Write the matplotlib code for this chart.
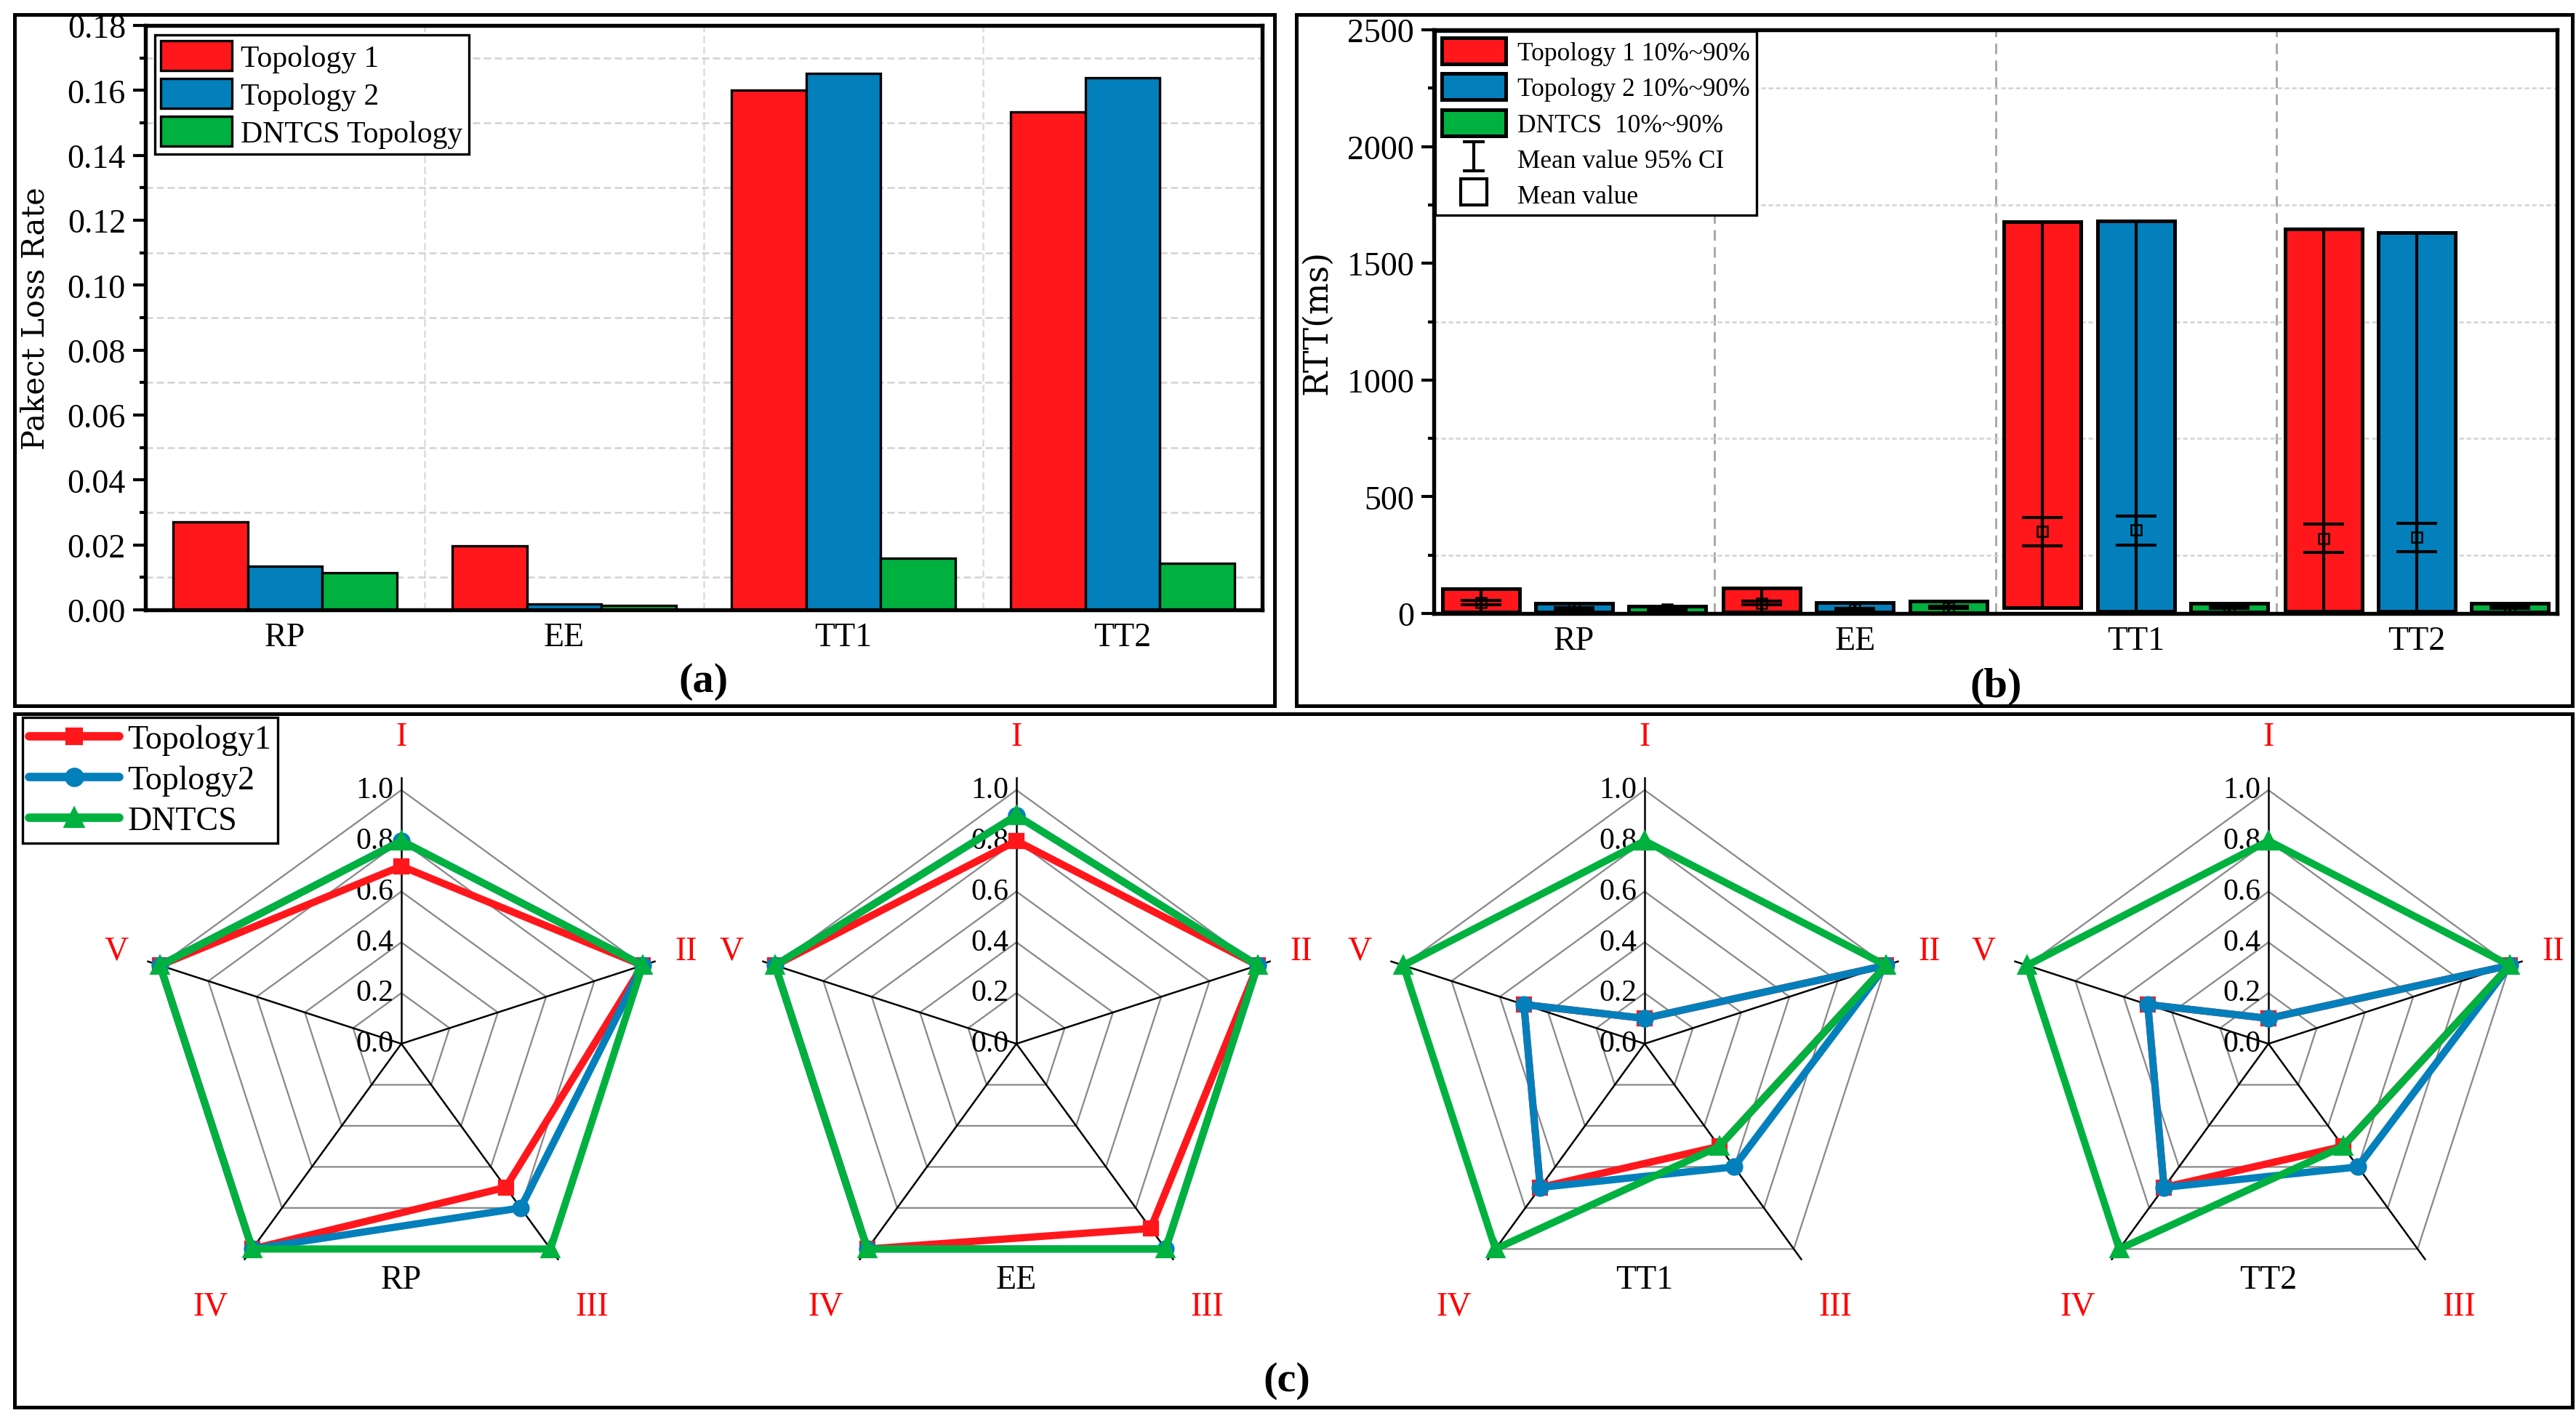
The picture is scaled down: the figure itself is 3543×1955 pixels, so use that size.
import matplotlib.pyplot as plt
import numpy as np
from matplotlib.lines import Line2D
from matplotlib.patches import Patch, Rectangle
from matplotlib.path import Path
from matplotlib.ticker import MultipleLocator, FormatStrFormatter

W, H = 3543, 1956
DPI = 300

plt.rcParams['font.family'] = ['Liberation Serif', 'DejaVu Serif']

RED = '#ff171c'
BLUE = '#0380bc'
GREEN = '#00b140'

scenarios = ['RP', 'EE', 'TT1', 'TT2']

# (a) packet loss rate
loss_labels = ['Topology 1', 'Topology 2', 'DNTCS Topology']
loss_topo1 = [0.0270, 0.0197, 0.1600, 0.1534]
loss_topo2 = [0.0134, 0.0018, 0.1652, 0.1638]
loss_dntcs = [0.0115, 0.0014, 0.0160, 0.0144]

# (b) RTT: 10%..90% range, mean and 95% CI of the mean
rtt_labels = ['Topology 1 10%~90%', 'Topology 2 10%~90%', 'DNTCS  10%~90%']
rtt_p10_topo1 = [5, 5, 24, 8]
rtt_p90_topo1 = [105, 110, 1677, 1648]
rtt_mean_topo1 = [47, 44, 351, 322]
rtt_ci_lo_topo1 = [38, 36, 289, 260]
rtt_ci_hi_topo1 = [57, 53, 410, 382]

rtt_p10_topo2 = [5, 5, 8, 8]
rtt_p90_topo2 = [44, 47, 1680, 1630]
rtt_mean_topo2 = [21, 18, 358, 327]
rtt_ci_lo_topo2 = [17, 14, 293, 264]
rtt_ci_hi_topo2 = [25, 22, 416, 385]

rtt_p10_dntcs = [4, 4, 5, 5]
rtt_p90_dntcs = [31, 54, 44, 45]
rtt_mean_dntcs = [19, 26, 26, 25]
rtt_ci_lo_dntcs = [15, 22, 22, 21]
rtt_ci_hi_dntcs = [23, 30, 30, 29]

# (c) radar scores
radar_axes = ['I', 'II', 'III', 'IV', 'V']
radar_levels = [0.0, 0.2, 0.4, 0.6, 0.8, 1.0]
radar_names = ['Topology1', 'Toplogy2', 'DNTCS']
radar_rp = [[0.7, 1.0, 0.7, 1.0, 1.0],
            [0.8, 1.0, 0.8, 1.0, 1.0],
            [0.8, 1.0, 1.0, 1.0, 1.0]]
radar_ee = [[0.8, 1.0, 0.9, 1.0, 1.0],
            [0.9, 1.0, 1.0, 1.0, 1.0],
            [0.9, 1.0, 1.0, 1.0, 1.0]]
radar_tt1 = [[0.1, 1.0, 0.5, 0.7, 0.5],
             [0.1, 1.0, 0.6, 0.7, 0.5],
             [0.8, 1.0, 0.5, 1.0, 1.0]]
radar_tt2 = [[0.1, 1.0, 0.5, 0.7, 0.5],
             [0.1, 1.0, 0.6, 0.7, 0.5],
             [0.8, 1.0, 0.5, 1.0, 1.0]]


def px_box(x0, y0, x1, y1):
    """Pixel box (top-left origin) -> figure fraction [left, bottom, w, h]."""
    return [x0 / W, 1 - y1 / H, (x1 - x0) / W, (y1 - y0) / H]


def style_bar_axes(ax):
    for sp in ax.spines.values():
        sp.set_linewidth(1.3)
    ax.tick_params(axis='y', which='major', direction='out', length=4, width=1.0,
                   labelsize=11, pad=2.5)
    ax.tick_params(axis='y', which='minor', direction='out', length=2, width=1.0)
    ax.tick_params(axis='x', which='both', length=0, labelsize=11, pad=4)
    ax.set_axisbelow(True)


fig = plt.figure(figsize=(W / DPI, H / DPI), dpi=DPI)

# panel frames
for x0, y0, x1, y1 in [(20, 21, 1753, 972), (1783, 21, 3538, 972), (20, 983, 3538, 1937)]:
    fig.add_artist(Rectangle((x0 / W, 1 - y1 / H), (x1 - x0) / W, (y1 - y0) / H,
                             transform=fig.transFigure, fill=False, lw=1.2, ec='black'))

# ---------------- (a) ----------------
ax_a = fig.add_axes(px_box(200, 36, 1736, 840))
x = np.arange(len(scenarios))
wa = 0.8 / 3
for i, (vals, col, lab) in enumerate(zip([loss_topo1, loss_topo2, loss_dntcs],
                                         [RED, BLUE, GREEN], loss_labels)):
    ax_a.bar(x + (i - 1) * wa, vals, wa, color=col, edgecolor='black', lw=0.8, label=lab)
ax_a.set_xlim(-0.5, 3.5)
ax_a.set_ylim(0, 0.18)
ax_a.set_xticks(x)
ax_a.set_xticklabels(scenarios)
ax_a.yaxis.set_major_locator(MultipleLocator(0.02))
ax_a.yaxis.set_minor_locator(MultipleLocator(0.01))
ax_a.yaxis.set_major_formatter(FormatStrFormatter('%.2f'))
ax_a.yaxis.grid(True, which='minor', ls=(0, (4, 2)), color='#d2d2d2', lw=0.6)
for xb in x[:-1] + 0.5:
    ax_a.axvline(xb, ls=(0, (4, 2)), color='#dcdcdc', lw=0.6, zorder=0)
style_bar_axes(ax_a)
ax_a.set_ylabel('Pakect Loss Rate', family='DejaVu Serif', fontsize=10)
ax_a.yaxis.set_label_coords(-0.085, 0.5)
ax_a.legend(loc='upper left', fontsize=10, frameon=True, fancybox=False, edgecolor='black',
            framealpha=1, borderaxespad=0.3, handlelength=2.35, handleheight=1.15,
            labelspacing=0.2, handletextpad=0.3, borderpad=0.2).get_frame().set_linewidth(0.8)
fig.text(968 / W, 1 - 938 / H, '(a)', ha='center', va='center', fontsize=14, fontweight='bold')

# ---------------- (b) ----------------
ax_b = fig.add_axes(px_box(1972, 42, 3517, 845))
wb = 0.275
offs = [-0.332, 0.0, 0.332]
groups = [
    (rtt_p10_topo1, rtt_p90_topo1, rtt_mean_topo1, rtt_ci_lo_topo1, rtt_ci_hi_topo1, RED),
    (rtt_p10_topo2, rtt_p90_topo2, rtt_mean_topo2, rtt_ci_lo_topo2, rtt_ci_hi_topo2, BLUE),
    (rtt_p10_dntcs, rtt_p90_dntcs, rtt_mean_dntcs, rtt_ci_lo_dntcs, rtt_ci_hi_dntcs, GREEN),
]
for off, (p10, p90, mean, lo, hi, col) in zip(offs, groups):
    p10, p90, mean, lo, hi = map(np.asarray, (p10, p90, mean, lo, hi))
    xs = x + off
    ax_b.bar(xs, p90 - p10, wb, bottom=p10, color=col, edgecolor='black', lw=1.2, zorder=2)
    ax_b.vlines(xs, p10, p90, color='black', lw=1.0, zorder=3)
    ax_b.errorbar(xs, mean, yerr=[mean - lo, hi - mean], fmt='none', ecolor='black',
                  elinewidth=1.0, capsize=6.8, capthick=1.0, zorder=4)
    ax_b.plot(xs, mean, 's', ms=3.3, mfc='none', mec='black', mew=0.6, zorder=5)
ax_b.set_xlim(-0.5, 3.5)
ax_b.set_ylim(0, 2500)
ax_b.set_xticks(x)
ax_b.set_xticklabels(scenarios)
ax_b.yaxis.set_major_locator(MultipleLocator(500))
ax_b.yaxis.set_minor_locator(MultipleLocator(250))
ax_b.yaxis.grid(True, which='minor', ls=(0, (2.5, 1.5)), color='#d2d2d2', lw=0.6)
for xb in x[:-1] + 0.5:
    ax_b.axvline(xb, ls=(0, (5, 3)), color='#a8a8a8', lw=0.7, zorder=0)
style_bar_axes(ax_b)
ax_b.set_ylabel('RTT(ms)', family='DejaVu Serif', fontsize=11)
ax_b.yaxis.set_label_coords(-0.089, 0.5)

ibar = Path([(-0.38, -0.5), (0.38, -0.5), (0, -0.5), (0, 0.5), (-0.38, 0.5), (0.38, 0.5)],
            [Path.MOVETO, Path.LINETO, Path.MOVETO, Path.LINETO, Path.MOVETO, Path.LINETO])
b_handles = [Patch(fc=c, ec='black', lw=1.2) for c in (RED, BLUE, GREEN)]
b_handles += [Line2D([], [], ls='none', marker=ibar, ms=9.5, mew=1.0, mfc='none',
                     mec='black'),
              Line2D([], [], ls='none', marker='s', ms=8.5, mfc='none', mec='black', mew=1.0)]
leg_b = ax_b.legend(b_handles, rtt_labels + ['Mean value 95% CI', 'Mean value'],
                    loc='upper left', fontsize=8.5, frameon=True, fancybox=False,
                    edgecolor='black', framealpha=1, borderaxespad=0.05, handlelength=2.5,
                    handleheight=1.2, labelspacing=0.32, handletextpad=0.45, borderpad=0.25)
leg_b.get_frame().set_linewidth(0.8)
fig.text(2745 / W, 1 - 945 / H, '(b)', ha='center', va='center', fontsize=14, fontweight='bold')

# ---------------- (c) ----------------
R = 349
centers = [552, 1398, 2262, 3120]
cy = 1437
half = 1.35
series_style = [(RED, 's', 4.2), (BLUE, 'o', 4.8), (GREEN, '^', 5.2)]
label_r = [1.21, 1.18, 1.28, 1.28, 1.18]

n = len(radar_axes)
ang = np.deg2rad(90 - 360 / n * np.arange(n))
cs, sn = np.cos(ang), np.sin(ang)


def draw_radar(ax, series, title):
    for lv in radar_levels[1:]:
        ax.plot(np.append(cs, cs[0]) * lv, np.append(sn, sn[0]) * lv,
                color='#8a8a8a', lw=0.55, zorder=1)
    for k in range(n):
        ext = 1.05
        ax.plot([0, cs[k] * ext], [0, sn[k] * ext], color='black', lw=0.6, zorder=1.5)
    for lv in radar_levels:
        ax.text(-0.03, lv, f'{lv:.1f}', ha='right', va='center', fontsize=10, zorder=1)
    for vals, (col, mk, ms) in zip(series, series_style):
        v = np.asarray(vals)
        ax.plot(np.append(cs * v, cs[0] * v[0]), np.append(sn * v, sn[0] * v[0]),
                color=col, lw=2.4, marker=mk, ms=ms, solid_capstyle='round',
                solid_joinstyle='round', zorder=3)
    for k, lab in enumerate(radar_axes):
        ax.text(cs[k] * label_r[k], sn[k] * label_r[k], lab, color='red',
                ha='center', va='center', fontsize=11)
    ax.text(0, -0.93, title, ha='center', va='center', fontsize=11)
    ax.set_xlim(-half, half)
    ax.set_ylim(-half, half)
    ax.axis('off')


for cx, data, title in zip(centers, [radar_rp, radar_ee, radar_tt1, radar_tt2], scenarios):
    ax = fig.add_axes(px_box(cx - half * R, cy - half * R, cx + half * R, cy + half * R))
    ax.patch.set_alpha(0)
    draw_radar(ax, data, title)

c_handles = [Line2D([], [], color=col, lw=2.8, marker=mk, ms=ms + 0.6, solid_capstyle='round')
             for col, mk, ms in series_style]
leg_c = fig.legend(c_handles, radar_names, loc='upper left',
                   bbox_to_anchor=(31 / W, 1 - 988 / H), bbox_transform=fig.transFigure,
                   fontsize=11, frameon=True, fancybox=False, edgecolor='black', framealpha=1,
                   borderaxespad=0, handlelength=2.7, labelspacing=0.3, handletextpad=0.25,
                   borderpad=0.2)
leg_c.get_frame().set_linewidth(0.8)
fig.text(1770 / W, 1 - 1900 / H, '(c)', ha='center', va='center', fontsize=14, fontweight='bold')

fig.savefig('out.png', dpi=DPI)
